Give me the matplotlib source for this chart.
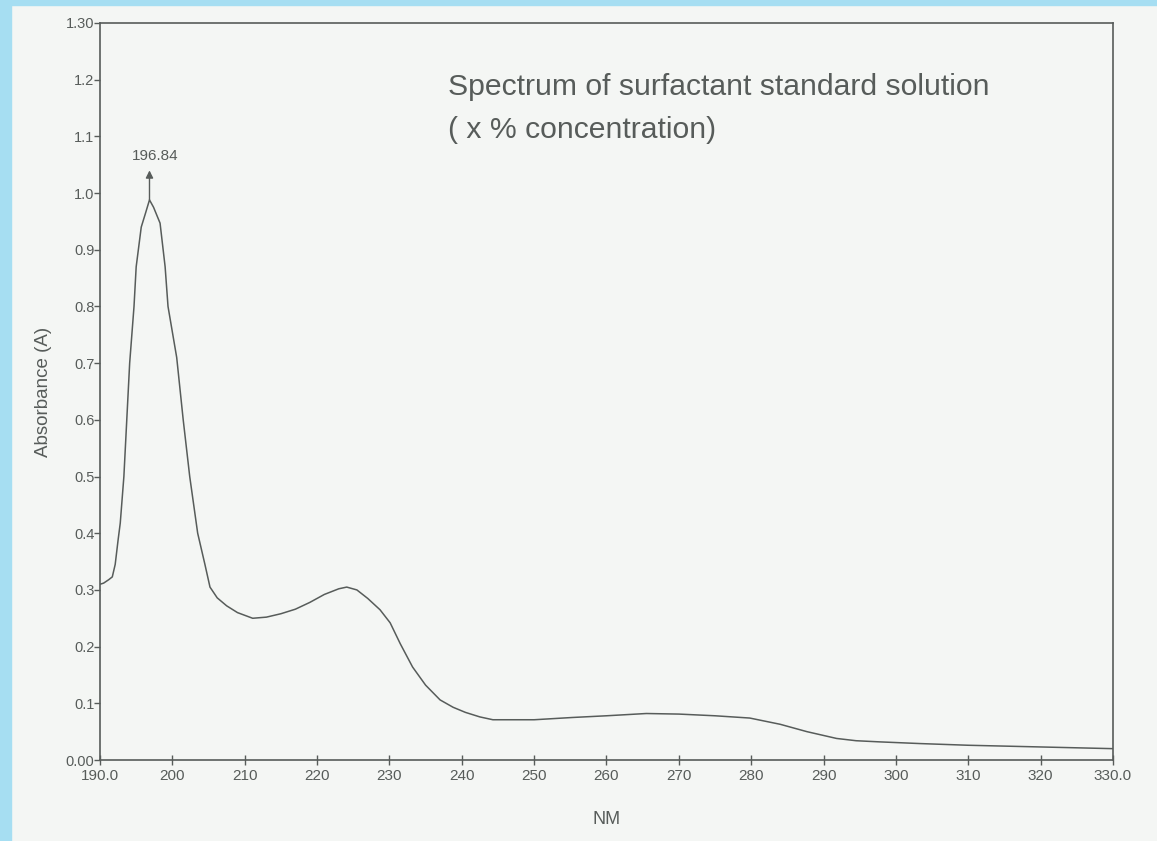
import numpy as np
import matplotlib.pyplot as plt
import matplotlib.patches as mpatches

plt.rcParams['font.family'] = ['Liberation Sans', 'DejaVu Sans']

# spectrum
wavelength = [190.0, 190.5, 191.2, 191.7, 192.1, 192.5, 192.8, 193.3, 193.7, 194.1,
              194.7, 195.0, 195.7, 196.3, 196.84, 197.4, 198.3, 199.0, 199.4, 200.6,
              201.5, 202.4, 203.5, 204.5, 205.2, 206.2, 207.5, 209.0, 211.1, 213.0,
              215.0, 217.0, 219.0, 221.0, 223.0, 224.1, 225.5, 227.0, 228.7, 230.1,
              231.5, 233.2, 235.0, 237.0, 238.8, 240.5, 242.5, 244.3, 250.0, 255.3,
              260.0, 265.5, 270.0, 275.0, 279.8, 284.0, 287.7, 291.8, 294.5, 297.7,
              303.3, 310.0, 320.0, 330.0]
absorbance = [0.310, 0.312, 0.318, 0.323, 0.345, 0.388, 0.418, 0.50, 0.60, 0.70,
              0.80, 0.87, 0.94, 0.965, 0.988, 0.975, 0.947, 0.87, 0.80, 0.71,
              0.60, 0.50, 0.40, 0.345, 0.305, 0.286, 0.272, 0.260, 0.250, 0.252,
              0.258, 0.266, 0.278, 0.292, 0.302, 0.305, 0.300, 0.285, 0.265, 0.242,
              0.205, 0.164, 0.132, 0.106, 0.093, 0.084, 0.076, 0.071, 0.071, 0.075,
              0.078, 0.082, 0.081, 0.078, 0.074, 0.063, 0.050, 0.038, 0.034, 0.032,
              0.029, 0.026, 0.023, 0.020]

peak_x = 196.84
peak_y = 0.988

xticks = [190, 200, 210, 220, 230, 240, 250, 260, 270, 280, 290, 300, 310, 320, 330]
xlabels = ['190.0'] + [str(v) for v in xticks[1:-1]] + ['330.0']
yticks = [0.0, 0.1, 0.2, 0.3, 0.4, 0.5, 0.6, 0.7, 0.8, 0.9, 1.0, 1.1, 1.2, 1.3]
ylabels = ['0.00'] + ['%.1f' % v for v in yticks[1:-1]] + ['1.30']

ink = '#575c5a'
paper = '#f4f6f4'

fig = plt.figure(figsize=(11.57, 8.41), dpi=100, facecolor=paper)

# light blue scan border on the left and top
fig.patches.append(mpatches.Rectangle((0, 0), 11 / 1157, 1, transform=fig.transFigure,
                                      color='#a6def2', zorder=0))
fig.patches.append(mpatches.Rectangle((0, 1 - 5 / 841), 1, 5 / 841, transform=fig.transFigure,
                                      color='#a6def2', zorder=0))

ax = fig.add_axes([100 / 1157, 1 - 760 / 841, 1013 / 1157, 737 / 841])
ax.set_facecolor(paper)
ax.plot(wavelength, absorbance, color=ink, lw=1.1)

ax.set_xlim(190, 330)
ax.set_ylim(0, 1.3)
ax.set_xticks(xticks)
ax.set_xticklabels(xlabels)
ax.set_yticks(yticks)
ax.set_yticklabels(ylabels)

for s in ax.spines.values():
    s.set_color(ink)
    s.set_linewidth(1.2)

ax.tick_params(axis='x', direction='inout', length=7, width=1, colors=ink,
               labelsize=11, pad=3)
ax.tick_params(axis='y', direction='out', length=4, width=1, colors=ink,
               labelsize=10.5, pad=0)

ax.set_xlabel('NM', fontsize=13, color=ink, labelpad=20)
ax.set_ylabel('Absorbance (A)', fontsize=13.5, color=ink, labelpad=10)

# peak marker
ax.annotate('', xy=(peak_x, 1.04), xytext=(peak_x, peak_y),
            arrowprops=dict(arrowstyle='-|>', color=ink, lw=1, mutation_scale=11,
                            shrinkA=0, shrinkB=0))
ax.text(peak_x + 0.8, 1.053, '%.2f' % peak_x, ha='center', va='bottom', fontsize=11, color=ink)

ax.text(0.344, 0.932, 'Spectrum of surfactant standard solution\n( x % concentration)',
        transform=ax.transAxes, fontsize=21.7, color=ink, ha='left', va='top',
        linespacing=1.68)

fig.savefig('out.png', dpi=100, facecolor=paper)
